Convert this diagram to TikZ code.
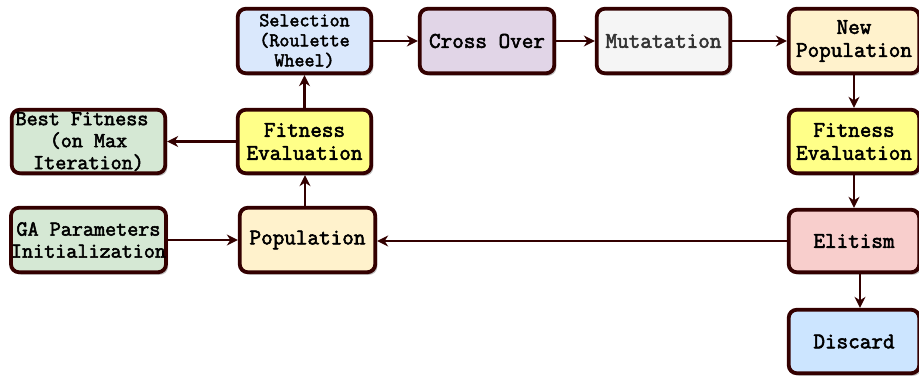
\documentclass[tikz,border=0pt]{standalone}
\usepackage{fontspec}
\newfontfamily\boxfont{Latin Modern Mono}[FakeBold=2.5]
\usetikzlibrary{arrows.meta,shadows}
\definecolor{dk}{HTML}{330000}
\definecolor{cblue}{HTML}{DAE8FC}
\definecolor{cpurple}{HTML}{E1D5E7}
\definecolor{cgray}{HTML}{F5F5F5}
\definecolor{cgraytxt}{HTML}{333333}
\definecolor{corange}{HTML}{FFF2CC}
\definecolor{cyellow}{HTML}{FFFF88}
\definecolor{cgreen}{HTML}{D5E8D4}
\definecolor{cred}{HTML}{F8CECC}
\definecolor{csky}{HTML}{CCE5FF}
\begin{document}
\begin{tikzpicture}[x=1pt,y=-1pt,
  box/.style={draw=dk, line width=3.8pt, rounded corners=8pt, align=center,
    inner sep=0pt, text=black,
    font=\boxfont\fontsize{22.5pt}{23pt}\selectfont,
    drop shadow={shadow xshift=2pt,shadow yshift=-2.5pt,opacity=0.25,fill=black}},
  smallfont/.style={font=\boxfont\fontsize{19.5pt}{20pt}\selectfont},
  midfont/.style={font=\boxfont\fontsize{21.5pt}{22pt}\selectfont},
  arr/.style={draw=dk, line width=2.4pt, -{Stealth[length=11pt,width=11pt,inset=3.5pt]}}
]
\useasboundingbox (0,0) rectangle (919,378);

\node[box, smallfont, fill=cblue, minimum width=133.5pt, minimum height=64.5pt] (sel) at (304.5,41) {Selection\\(Roulette\\Wheel)};
\node[box, fill=cpurple, minimum width=134.5pt, minimum height=64.5pt] (cross) at (487,41) {Cross Over};
\node[box, fill=cgray, text=cgraytxt, minimum width=133.5pt, minimum height=64.5pt] (mut) at (663.5,41) {Mutatation};
\node[box, fill=corange, minimum width=130.5pt, minimum height=64.5pt] (newpop) at (854,41) {New\\Population};

\node[box, midfont, fill=cgreen, minimum width=153.5pt, minimum height=63.5pt] (best) at (88.5,141.5) {Best Fitness\hspace*{13pt}\\(on Max\\Iteration)};
\node[box, fill=cyellow, minimum width=133.5pt, minimum height=63.5pt] (fe1) at (304.5,141.5) {Fitness\\Evaluation};
\node[box, fill=cyellow, minimum width=130.5pt, minimum height=63.5pt] (fe2) at (854,141.5) {Fitness\\Evaluation};

\node[box, midfont, fill=cgreen, minimum width=153.5pt, minimum height=64.5pt] (ga) at (88.5,240) {GA Parameters\\Initialization};
\node[box, fill=corange, minimum width=135.5pt, minimum height=64.5pt] (pop) at (307.5,240) {Population};
\node[box, fill=cred, minimum width=130.5pt, minimum height=62.5pt] (elit) at (854,241) {Elitism};
\node[box, fill=csky, minimum width=130.5pt, minimum height=63.5pt] (disc) at (854,341.5) {Discard};

\draw[arr] (sel) -- (cross);
\draw[arr] (cross) -- (mut);
\draw[arr] (mut) -- (newpop);
\draw[arr] (fe1) -- (sel);
\draw[arr] (fe1) -- (best);
\draw[arr] ([xshift=-2.5pt]pop.north) -- ([xshift=0.5pt]fe1.south);
\draw[arr] (ga) -- (pop);
\draw[arr] (elit.west) -- (pop.east |- elit.west);
\draw[arr] (newpop) -- (fe2);
\draw[arr] (fe2) -- (elit);
\draw[arr] ([xshift=6pt]elit.south) -- ([xshift=6pt]disc.north);
\end{tikzpicture}
\end{document}
